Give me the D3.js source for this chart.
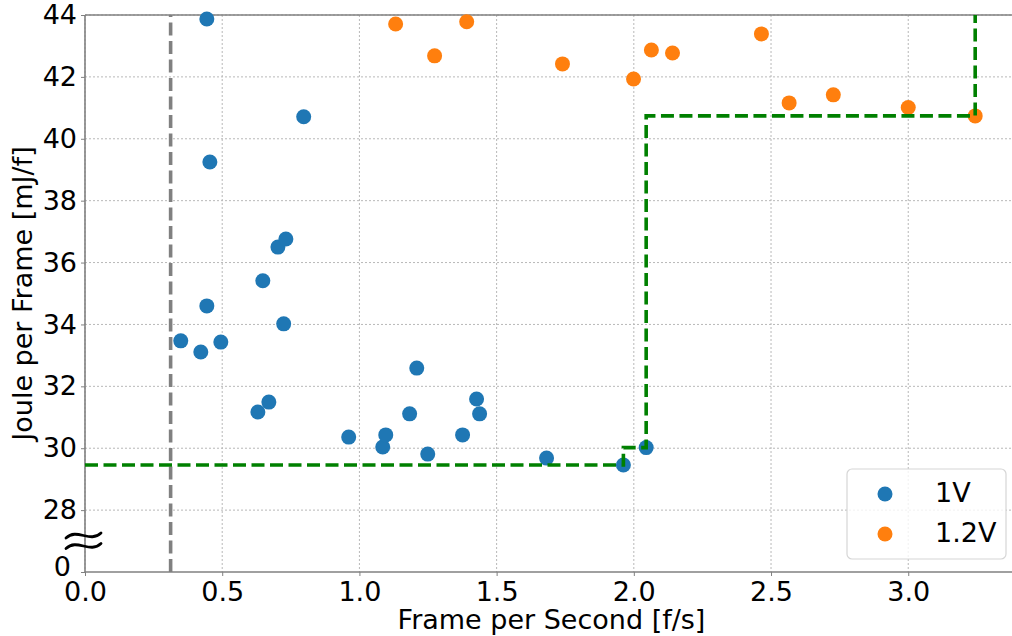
<!DOCTYPE html>
<html>
<head>
<meta charset="utf-8">
<script src="https://cdn.jsdelivr.net/npm/d3@7"></script>
<style>
  html, body { margin: 0; padding: 0; background: #fff; }
  svg { display: block; font-family: "DejaVu Sans", sans-serif; }
</style>
</head>
<body>
<script>
// ---- data ----
const series1V_x = [0.444, 0.455, 0.797, 0.349, 0.422, 0.444, 0.495, 0.648, 0.703, 0.732, 0.724, 0.630, 0.670,
                    0.961, 1.085, 1.096, 1.209, 1.183, 1.249, 1.376, 1.427, 1.438, 1.682, 1.962, 2.045];
const series1V_y = [43.87, 39.25, 40.71, 33.47, 33.11, 34.60, 33.43, 35.41, 36.50, 36.76, 34.02, 31.17, 31.49,
                    30.36, 30.04, 30.43, 32.59, 31.11, 29.81, 30.43, 31.59, 31.11, 29.68, 29.46, 30.02];
const series12V_x = [1.132, 1.391, 1.274, 1.740, 1.999, 2.064, 2.141, 2.465, 2.566, 2.727, 3.000, 3.244];
const series12V_y = [43.71, 43.78, 42.68, 42.42, 41.93, 42.87, 42.77, 43.39, 41.16, 41.42, 41.01, 40.74];
const frontierX = [0, 1.962, 2.045, 3.244];
const frontierY = [29.46, 30.02, 40.74, 44];
const limitX = 0.312;
const xTickValues = [0, 0.5, 1.0, 1.5, 2.0, 2.5, 3.0];
const xTickLabels = ["0.0", "0.5", "1.0", "1.5", "2.0", "2.5", "3.0"];
const yTickValues = [26, 28, 30, 32, 34, 36, 38, 40, 42, 44];
const yTickLabels = ["0", "28", "30", "32", "34", "36", "38", "40", "42", "44"];
const legendNames = ["1V", "1.2V"];
const colors = ["#1f77b4", "#ff7f0e"];

// ---- layout ----
const W = 1012, H = 636;
const mLeft = 85, mTop = 15, mBottom = 572, mRight = 1018;
const FS = 27;

const svg = d3.select("body").append("svg").attr("width", W).attr("height", H);

const x = d3.scaleLinear().domain([0, 3.4]).range([mLeft, mRight]);
const y = d3.scaleLinear().domain([26, 44]).range([mBottom, mTop]);

// grid
const grid = svg.append("g");
grid.selectAll("line.gx").data(xTickValues).join("line").attr("class", "gx")
  .attr("x1", d => x(d)).attr("x2", d => x(d)).attr("y1", mTop).attr("y2", mBottom)
  .attr("stroke", "#b8b8b8").attr("stroke-width", 1).attr("stroke-dasharray", "2,2");
grid.selectAll("line.gy").data(yTickValues.slice(1)).join("line").attr("class", "gy")
  .attr("x1", mLeft).attr("x2", mRight).attr("y1", d => y(d)).attr("y2", d => y(d))
  .attr("stroke", "#b8b8b8").attr("stroke-width", 1).attr("stroke-dasharray", "2,2");

// axes
const xAxis = d3.axisBottom(x).tickValues(xTickValues).tickFormat((d, i) => xTickLabels[i])
  .tickSize(4).tickPadding(6);
const yAxis = d3.axisLeft(y).tickValues(yTickValues).tickFormat((d, i) => yTickLabels[i])
  .tickSize(4).tickPadding(4);

const gx = svg.append("g").attr("transform", `translate(0,${mBottom})`).call(xAxis);
const gy = svg.append("g").attr("transform", `translate(${mLeft},0)`).call(yAxis);
[gx, gy].forEach(g => {
  g.select(".domain").remove();
  g.selectAll(".tick line").attr("stroke", "#808080");
  g.selectAll(".tick text").attr("font-size", FS).attr("fill", "#000")
    .attr("font-family", "DejaVu Sans");
});
gy.selectAll(".tick").filter(d => d === 26).select("text").attr("dx", -6).attr("dy", "0.12em");

// spines
const spineColor = "#808080";
svg.append("line").attr("x1", mLeft).attr("x2", mRight).attr("y1", mTop).attr("y2", mTop)
  .attr("stroke", spineColor).attr("stroke-width", 1.6);
svg.append("line").attr("x1", mLeft).attr("x2", mRight).attr("y1", mBottom).attr("y2", mBottom)
  .attr("stroke", spineColor).attr("stroke-width", 1.6);
svg.append("line").attr("x1", mLeft).attr("x2", mLeft).attr("y1", mTop).attr("y2", mBottom)
  .attr("stroke", spineColor).attr("stroke-width", 1.6);

// axis break symbol
const brk = svg.append("g");
[0, 10.5].forEach(off => {
  const yc = 535.5 + off;
  brk.append("path")
    .attr("d", `M66,${yc + 2.5} C77,${yc - 8} 90,${yc + 8} 101,${yc - 2.5}`)
    .attr("fill", "none").attr("stroke", "#000").attr("stroke-width", 2.8)
    .attr("stroke-linecap", "round");
});

// scatter
const pts1 = series1V_x.map((v, i) => [v, series1V_y[i]]);
const pts2 = series12V_x.map((v, i) => [v, series12V_y[i]]);
svg.append("g").selectAll("circle").data(pts1).join("circle")
  .attr("cx", d => x(d[0])).attr("cy", d => y(d[1])).attr("r", 7.5).attr("fill", colors[0]);
svg.append("g").selectAll("circle").data(pts2).join("circle")
  .attr("cx", d => x(d[0])).attr("cy", d => y(d[1])).attr("r", 7.5).attr("fill", colors[1]);

// vertical gray limit line
svg.append("line").attr("x1", x(limitX)).attr("x2", x(limitX)).attr("y1", y(26)).attr("y2", y(44))
  .attr("stroke", "#808080").attr("stroke-width", 3.6).attr("stroke-dasharray", "13,5.5");

// green pareto frontier
const line = d3.line().x(d => x(d[0])).y(d => y(d[1])).curve(d3.curveStepAfter);
svg.append("path").datum(frontierX.map((v, i) => [v, frontierY[i]]))
  .attr("d", line).attr("fill", "none").attr("stroke", "#008000")
  .attr("stroke-width", 3.6).attr("stroke-dasharray", "13,5.5");

// axis labels
svg.append("text").attr("x", (mLeft + mRight) / 2).attr("y", 629).attr("text-anchor", "middle")
  .attr("font-size", FS).attr("fill", "#000").text("Frame per Second [f/s]");
svg.append("text").attr("transform", `translate(32,${(mTop + mBottom) / 2}) rotate(-90)`)
  .attr("text-anchor", "middle").attr("font-size", FS).attr("fill", "#000")
  .text("Joule per Frame [mJ/f]");

// legend
const lg = svg.append("g");
lg.append("rect").attr("x", 847).attr("y", 469).attr("width", 159).attr("height", 90)
  .attr("rx", 5).attr("fill", "#fff").attr("fill-opacity", 0.8)
  .attr("stroke", "#d6d6d6").attr("stroke-width", 1.2);
legendNames.forEach((name, i) => {
  const cy = 494 + i * 40;
  lg.append("circle").attr("cx", 885).attr("cy", cy).attr("r", 7.5).attr("fill", colors[i]);
  lg.append("text").attr("x", 935).attr("y", cy + 8).attr("font-size", FS).attr("fill", "#000").text(name);
});
</script>
</body>
</html>
